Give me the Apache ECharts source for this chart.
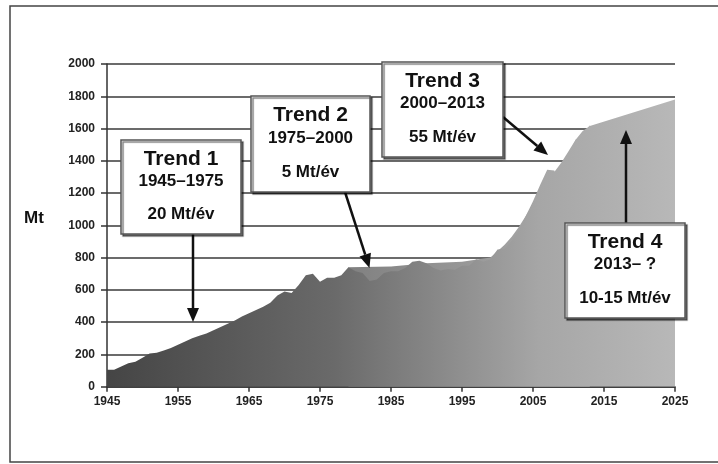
<!DOCTYPE html>
<html>
<head>
<meta charset="utf-8">
<script src="https://cdn.jsdelivr.net/npm/echarts@6/dist/echarts.min.js"></script>
<style>
html,body{margin:0;padding:0;background:#fff;}
#c{width:718px;height:464px;}
</style>
</head>
<body>
<div id="c"></div>
<script>
// World production (Mt)
const years = [1945,1946,1947,1948,1949,1950,1951,1952,1953,1954,1955,1956,1957,1958,1959,1960,1961,1962,1963,1964,1965,1966,1967,1968,1969,1970,1971,1972,1973,1974,1975,1976,1977,1978,1979,1980,1981,1982,1983,1984,1985,1986,1987,1988,1989,1990,1991,1992,1993,1994,1995,1996,1997,1998,1999,2000,2001,2002,2003,2004,2005,2006,2007,2008,2009,2010,2011,2012,2013];
const production = [105,105,125,145,155,180,205,210,225,240,260,280,300,315,330,350,370,390,410,435,455,475,495,520,565,590,580,630,690,700,650,675,675,690,740,715,705,655,665,705,715,715,735,775,780,765,735,720,730,725,750,750,790,775,790,850,855,905,970,1060,1150,1250,1345,1340,1240,1430,1530,1560,1620];
// Trend envelope (lighter layer)
const trendYears = [1979,1985,1990,1995,1999,2000,2001,2002,2003,2004,2005,2006,2007,2008,2009,2010,2011,2012,2013,2025];
const trendValues = [740,745,765,775,800,840,880,930,990,1060,1130,1210,1280,1330,1390,1460,1530,1585,1615,1780];
const xTicks = [1945,1955,1965,1975,1985,1995,2005,2015,2025];
const boxes = [
  {title:'Trend 1', period:'1945–1975', rate:'20 Mt/év'},
  {title:'Trend 2', period:'1975–2000', rate:'5 Mt/év'},
  {title:'Trend 3', period:'2000–2013', rate:'55 Mt/év'},
  {title:'Trend 4', period:'2013– ?', rate:'10-15 Mt/év'}
];

const FONT = 'Liberation Sans, Arial, Helvetica, sans-serif';
const chart = echarts.init(document.getElementById('c'), null, {renderer:'canvas'});

function grad(stops){
  return {type:'linear', x:107, y:0, x2:675, y2:0, global:true,
    colorStops: stops.map(s=>({offset:s[0], color:s[1]}))};
}

const boxLayout = [
  {x:121, y:140, w:120, h:94},
  {x:251, y:96,  w:119, h:96},
  {x:382, y:62,  w:121, h:95},
  {x:565, y:223, w:120, h:95}
];
const arrows = [
  [193,234,193,322],
  [345,192,369.5,268],
  [503,117,548,155],
  [626,223,626,130]
];

const graphics = [];
graphics.push({type:'rect', shape:{x:10,y:6,width:712,height:456}, style:{fill:null, stroke:'#444', lineWidth:1.5}, z:0, silent:true});
graphics.push({type:'text', x:24, y:218, style:{text:'Mt', font:'bold 17px '+FONT, fill:'#111', textVerticalAlign:'middle', verticalAlign:'middle'}, z:10});

arrows.forEach(a=>{
  const [x1,y1,x2,y2]=a;
  const dx=x2-x1, dy=y2-y1, L=Math.sqrt(dx*dx+dy*dy);
  const ux=dx/L, uy=dy/L, hl=14, hw=6;
  const bx=x2-ux*hl, by=y2-uy*hl;
  graphics.push({type:'line', shape:{x1:x1,y1:y1,x2:bx,y2:by}, style:{stroke:'#111', lineWidth:2.5}, z:20});
  graphics.push({type:'polygon', shape:{points:[[x2,y2],[bx-uy*hw,by+ux*hw],[bx+uy*hw,by-ux*hw]]}, style:{fill:'#111'}, z:20});
});

boxes.forEach((b,i)=>{
  const L=boxLayout[i];
  const cx=L.x+L.w/2;
  graphics.push({type:'rect', shape:{x:L.x,y:L.y,width:L.w,height:L.h},
    style:{fill:'#fff', stroke:'#555', lineWidth:1.5, shadowColor:'rgba(0,0,0,0.5)', shadowOffsetX:2, shadowOffsetY:2, shadowBlur:1}, z:30});
  const rows=[[b.title,'bold 21px',L.y+L.h*0.2],[b.period,'bold 17px',L.y+L.h*0.44],[b.rate,'bold 17px',L.y+L.h*0.79]];
  rows.forEach(r=>{
    graphics.push({type:'text', x:cx, y:r[2], style:{text:r[0], font:r[1]+' '+FONT, fill:'#111', textAlign:'center', align:'center', textVerticalAlign:'middle', verticalAlign:'middle'}, z:31});
  });
});

chart.setOption({
  animation:false,
  backgroundColor:'#fff',
  grid:{left:107, right:43, top:64, bottom:77.3, containLabel:false},
  xAxis:{type:'value', min:1945, max:2025, interval:10,
    axisLine:{show:true, onZero:false, lineStyle:{color:'#333', width:1.5}},
    axisTick:{show:true, length:5, lineStyle:{color:'#333', width:1.5}},
    axisLabel:{color:'#222', fontWeight:'bold', fontSize:12, fontFamily:FONT, margin:9,
      formatter:v=> xTicks.indexOf(v)>=0 ? String(v) : ''},
    splitLine:{show:false}},
  yAxis:{type:'value', min:0, max:2000, interval:200,
    axisLine:{show:true, lineStyle:{color:'#333', width:1.5}},
    axisTick:{show:true, length:6, lineStyle:{color:'#333', width:1.5}},
    axisLabel:{color:'#222', fontWeight:'bold', fontSize:12, fontFamily:FONT, margin:12,
      formatter:v=>String(v)},
    splitLine:{show:true, lineStyle:{color:'#3a3a3a', width:1.5}}},
  series:[
    {type:'line', name:'trend', data:trendYears.map((y,i)=>[y,trendValues[i]]), showSymbol:false, smooth:false,
      lineStyle:{width:0}, z:2,
      areaStyle:{opacity:1, color:grad([[0,'#555555'],[0.44,'#828282'],[0.76,'#a6a6a6'],[1,'#b8b8b8']])}},
    {type:'line', name:'production', data:years.map((y,i)=>[y,production[i]]), showSymbol:false, smooth:false,
      lineStyle:{width:0}, z:3,
      areaStyle:{opacity:1, color:grad([[0,'#454545'],[0.4,'#6a6a6a'],[0.76,'#a6a6a6'],[1,'#b8b8b8']])}}
  ],
  graphic:graphics
});
</script>
</body>
</html>
